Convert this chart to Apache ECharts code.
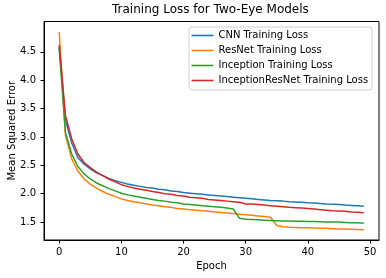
<!DOCTYPE html>
<html>
<head>
<meta charset="utf-8">
<script src="https://cdn.jsdelivr.net/npm/echarts@6/dist/echarts.min.js"></script>
<style>html,body{margin:0;padding:0;background:#fff}#c{width:386px;height:278px}</style>
</head>
<body>
<div id="c"></div>
<script>
const epochs = Array.from({length: 50}, (_, i) => i);
const seriesNames = ['CNN Training Loss', 'ResNet Training Loss', 'Inception Training Loss', 'InceptionResNet Training Loss'];
const cnnLoss = [4.59, 3.30, 2.90, 2.64, 2.52, 2.44, 2.37, 2.32, 2.27, 2.23,
  2.20, 2.17, 2.15, 2.13, 2.11, 2.10, 2.08, 2.07, 2.05, 2.04,
  2.02, 2.01, 2.00, 1.99, 1.98, 1.97, 1.96, 1.95, 1.94, 1.93,
  1.92, 1.91, 1.90, 1.89, 1.88, 1.875, 1.87, 1.86, 1.855, 1.85,
  1.84, 1.835, 1.83, 1.82, 1.815, 1.81, 1.80, 1.795, 1.79, 1.78];
const resnetLoss = [4.85, 3.03, 2.62, 2.40, 2.26, 2.17, 2.10, 2.04, 1.99, 1.95,
  1.91, 1.88, 1.86, 1.84, 1.82, 1.80, 1.79, 1.77, 1.76, 1.74,
  1.73, 1.72, 1.71, 1.70, 1.69, 1.68, 1.67, 1.66, 1.65, 1.64,
  1.63, 1.62, 1.61, 1.60, 1.585, 1.44, 1.42, 1.41, 1.405, 1.40,
  1.40, 1.395, 1.39, 1.39, 1.385, 1.38, 1.38, 1.375, 1.37, 1.365];
const inceptionLoss = [4.55, 3.08, 2.70, 2.48, 2.35, 2.26, 2.19, 2.14, 2.09, 2.05,
  2.01, 1.98, 1.96, 1.94, 1.92, 1.90, 1.88, 1.87, 1.85, 1.84,
  1.82, 1.81, 1.80, 1.79, 1.78, 1.77, 1.76, 1.75, 1.73, 1.57,
  1.55, 1.545, 1.54, 1.535, 1.53, 1.525, 1.52, 1.52, 1.515, 1.515,
  1.51, 1.51, 1.505, 1.50, 1.50, 1.50, 1.495, 1.49, 1.49, 1.48];
const incResLoss = [4.62, 3.38, 2.97, 2.70, 2.55, 2.46, 2.38, 2.32, 2.26, 2.21,
  2.16, 2.13, 2.10, 2.08, 2.06, 2.04, 2.02, 2.00, 1.99, 1.97,
  1.96, 1.94, 1.93, 1.92, 1.90, 1.89, 1.88, 1.87, 1.86, 1.85,
  1.82, 1.82, 1.81, 1.80, 1.79, 1.78, 1.77, 1.76, 1.755, 1.75,
  1.74, 1.73, 1.72, 1.71, 1.70, 1.695, 1.69, 1.68, 1.675, 1.665];
const xTicks = [0, 10, 20, 30, 40, 50];
const yTicks = [1.5, 2.0, 2.5, 3.0, 3.5, 4.0, 4.5];
const colors = ['#1f77b4', '#ff7f0e', '#2ca02c', '#d62728'];
const allValues = [cnnLoss, resnetLoss, inceptionLoss, incResLoss];

const FONT = 'DejaVu Sans';
const chart = echarts.init(document.getElementById('c'), null, {renderer: 'canvas'});
chart.setOption({
  animation: false,
  backgroundColor: '#fff',
  title: {
    text: 'Training Loss for Two-Eye Models',
    left: 112, top: 4, padding: 0,
    textStyle: {fontFamily: FONT, fontSize: 12, fontWeight: 'normal', color: '#000'}
  },
  legend: {
    data: seriesNames,
    orient: 'vertical',
    left: 189, top: 27,
    icon: 'rect', itemWidth: 22, itemHeight: 1.6, itemGap: 3,
    padding: [2.5, 4, 3.5, 2.5],
    borderColor: '#d0d0d0', borderWidth: 1, borderRadius: 3,
    backgroundColor: 'rgba(255,255,255,0.8)',
    textStyle: {fontFamily: FONT, fontSize: 10, color: '#000', lineHeight: 12}
  },
  grid: {left: 44, right: 7, top: 21.5, bottom: 38, show: true, borderColor: '#000', borderWidth: 1, containLabel: false, outerBoundsMode: 'none'},
  xAxis: {
    type: 'value', min: -2.45, max: 51.45,
    name: 'Epoch', nameLocation: 'middle', nameGap: 21, nameMoveOverlap: false,
    nameTextStyle: {fontFamily: FONT, fontSize: 10, color: '#000'},
    axisLine: {show: true, onZero: false, lineStyle: {color: '#000', width: 1}},
    axisTick: {show: true, inside: false, length: 3.5, lineStyle: {color: '#000'}, customValues: xTicks},
    axisLabel: {show: true, margin: 7, fontFamily: FONT, fontSize: 10, color: '#000', customValues: xTicks},
    splitLine: {show: false}
  },
  yAxis: {
    type: 'value', min: 1.185, max: 5.035,
    name: 'Mean Squared Error', nameLocation: 'middle', nameGap: 27, nameRotate: 90, nameMoveOverlap: false,
    nameTextStyle: {fontFamily: FONT, fontSize: 10, color: '#000'},
    axisLine: {show: true, onZero: false, lineStyle: {color: '#000', width: 1}},
    axisTick: {show: true, inside: false, length: 3.5, lineStyle: {color: '#000'}, customValues: yTicks},
    axisLabel: {show: true, margin: 8, fontFamily: FONT, fontSize: 10, color: '#000', customValues: yTicks,
      formatter: v => v.toFixed(1)},
    splitLine: {show: false}
  },
  series: seriesNames.map((name, k) => ({
    name: name,
    type: 'line',
    symbol: 'none',
    showSymbol: false,
    color: colors[k],
    lineStyle: {color: colors[k], width: 1.5},
    data: epochs.map((e, i) => [e, allValues[k][i]])
  }))
});
</script>
</body>
</html>
